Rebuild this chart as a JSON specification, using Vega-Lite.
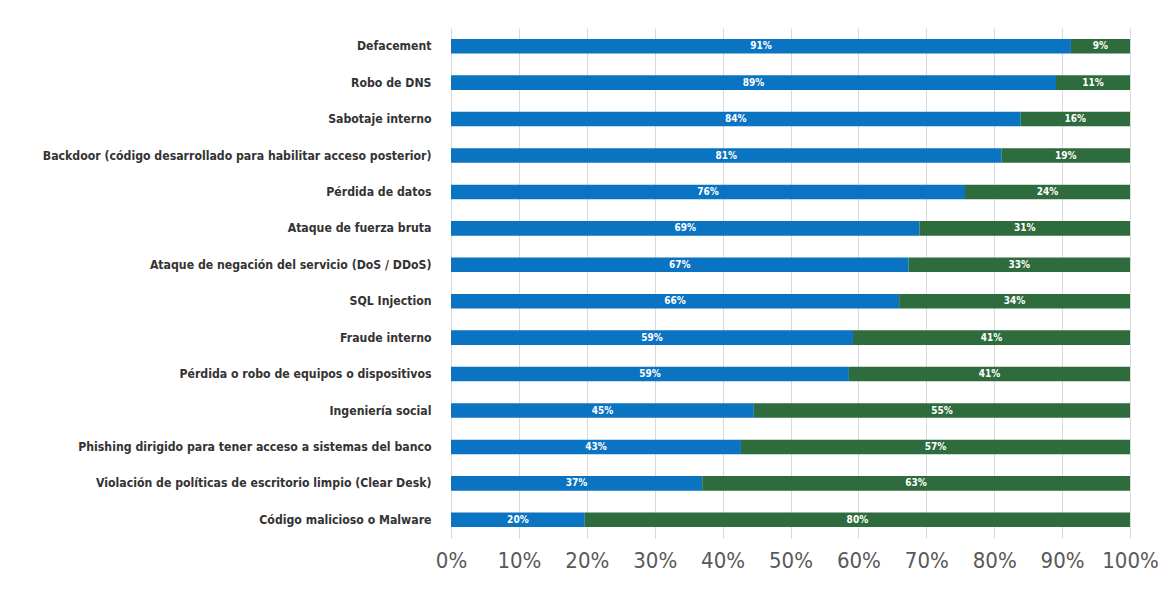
{
  "$schema": "https://vega.github.io/schema/vega-lite/v6.json",
  "width": 679,
  "height": 510,
  "autosize": {"type": "none"},
  "padding": {"left": 451, "top": 28, "right": 42, "bottom": 60},
  "background": "white",
  "config": {"view": {"stroke": null}},
  "data": {
    "values": [
      {"cat": "Defacement", "s": "A", "k": 1, "v": 0.913},
      {"cat": "Defacement", "s": "B", "k": 2, "v": 0.087},
      {"cat": "Robo de DNS", "s": "A", "k": 1, "v": 0.891},
      {"cat": "Robo de DNS", "s": "B", "k": 2, "v": 0.109},
      {"cat": "Sabotaje interno", "s": "A", "k": 1, "v": 0.839},
      {"cat": "Sabotaje interno", "s": "B", "k": 2, "v": 0.161},
      {"cat": "Backdoor (código desarrollado para habilitar acceso posterior)", "s": "A", "k": 1, "v": 0.811},
      {"cat": "Backdoor (código desarrollado para habilitar acceso posterior)", "s": "B", "k": 2, "v": 0.189},
      {"cat": "Pérdida de datos", "s": "A", "k": 1, "v": 0.757},
      {"cat": "Pérdida de datos", "s": "B", "k": 2, "v": 0.243},
      {"cat": "Ataque de fuerza bruta", "s": "A", "k": 1, "v": 0.69},
      {"cat": "Ataque de fuerza bruta", "s": "B", "k": 2, "v": 0.31},
      {"cat": "Ataque de negación del servicio (DoS / DDoS)", "s": "A", "k": 1, "v": 0.674},
      {"cat": "Ataque de negación del servicio (DoS / DDoS)", "s": "B", "k": 2, "v": 0.326},
      {"cat": "SQL Injection", "s": "A", "k": 1, "v": 0.66},
      {"cat": "SQL Injection", "s": "B", "k": 2, "v": 0.34},
      {"cat": "Fraude interno", "s": "A", "k": 1, "v": 0.592},
      {"cat": "Fraude interno", "s": "B", "k": 2, "v": 0.408},
      {"cat": "Pérdida o robo de equipos o dispositivos", "s": "A", "k": 1, "v": 0.586},
      {"cat": "Pérdida o robo de equipos o dispositivos", "s": "B", "k": 2, "v": 0.414},
      {"cat": "Ingeniería social", "s": "A", "k": 1, "v": 0.446},
      {"cat": "Ingeniería social", "s": "B", "k": 2, "v": 0.554},
      {"cat": "Phishing dirigido para tener acceso a sistemas del banco", "s": "A", "k": 1, "v": 0.427},
      {"cat": "Phishing dirigido para tener acceso a sistemas del banco", "s": "B", "k": 2, "v": 0.573},
      {"cat": "Violación de políticas de escritorio limpio (Clear Desk)", "s": "A", "k": 1, "v": 0.37},
      {"cat": "Violación de políticas de escritorio limpio (Clear Desk)", "s": "B", "k": 2, "v": 0.63},
      {"cat": "Código malicioso o Malware", "s": "A", "k": 1, "v": 0.197},
      {"cat": "Código malicioso o Malware", "s": "B", "k": 2, "v": 0.803}
    ]
  },
  "transform": [
    {"stack": "v", "groupby": ["cat"], "sort": [{"field": "k", "order": "ascending"}], "as": ["v0", "v1"]},
    {"calculate": "(datum.v0 + datum.v1) / 2", "as": "mid"}
  ],
  "encoding": {
    "y": {
      "field": "cat",
      "type": "nominal",
      "sort": null,
      "scale": {"paddingInner": 0.6, "paddingOuter": 0.3},
      "axis": {
        "title": null,
        "domain": false,
        "ticks": false,
        "labelPadding": 20,
        "labelFont": "DejaVu Sans Condensed, Roboto, sans-serif",
        "labelFontSize": 12.2,
        "labelFontWeight": "bold",
        "labelColor": "#333333",
        "labelLimit": 600
      }
    }
  },
  "layer": [
    {
      "mark": {"type": "bar"},
      "encoding": {
        "x": {
          "field": "v0",
          "type": "quantitative",
          "scale": {"domain": [0, 1], "nice": false},
          "axis": {
            "title": null,
            "format": ".0%",
            "values": [0, 0.1, 0.2, 0.3, 0.4, 0.5, 0.6, 0.7, 0.8, 0.9, 1],
            "grid": true,
            "gridColor": "#d9d9d9",
            "domain": false,
            "ticks": false,
            "labelPadding": 12,
            "labelFont": "DejaVu Sans Condensed, Roboto, sans-serif",
            "labelFontSize": 22,
            "labelColor": "#595959",
            "labelFlush": false,
            "labelOverlap": false
          }
        },
        "x2": {"field": "v1"},
        "color": {
          "field": "s",
          "type": "nominal",
          "scale": {"domain": ["A", "B"], "range": ["#0a73c2", "#2e6b3d"]},
          "legend": null
        }
      }
    },
    {
      "mark": {"type": "text", "color": "white", "font": "DejaVu Sans Condensed, Roboto, sans-serif", "fontSize": 10, "fontWeight": "bold", "baseline": "middle", "align": "center"},
      "encoding": {
        "x": {"field": "mid", "type": "quantitative"},
        "text": {"field": "v", "type": "quantitative", "format": ".0%"}
      }
    }
  ]
}
